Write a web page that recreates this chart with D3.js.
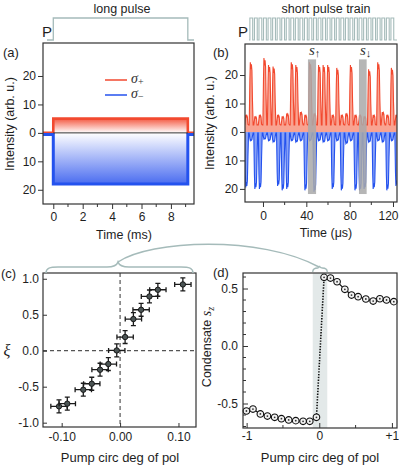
<!DOCTYPE html>
<html>
<head>
<meta charset="utf-8">
<script src="https://cdnjs.cloudflare.com/ajax/libs/d3/7.8.5/d3.min.js"></script>
<style>
  body { margin: 0; background: #fff; }
  svg { display: block; }
</style>
</head>
<body>
<script>
const FONT = '"Liberation Sans", Arial, Helvetica, sans-serif'
const SERIF = '"Liberation Serif", "Times New Roman", serif'
const RED = '#f2492f', BLUE = '#2452ee', GUIDE = '#a5bbba', INK = '#1e1e1e'

// ---------- data ----------
// (a) long pulse, time in ms, intensity in arb. u.
let aTime = [-0.7, 0, 0, 9.15, 9.15, 9.57]
let aSigmaPlus = [0, 0, 5, 5, 0, 0]
let aSigmaMinus = [0.6, 0.6, 18, 18, 0.6, 0.6]

// (b) short pulse train: one entry per pump pulse (time in us)
let bPulseTime = [-15, -10.8, -6.6, -2.4, 1.8, 6, 10.2, 14.4, 18.6, 22.8, 27, 31.2, 35.4, 39.6, 43.8, 48, 52.2,
  56.4, 60.6, 64.8, 69, 73.2, 77.4, 81.6, 85.8, 90, 94.2, 98.4, 102.6, 106.8, 111, 115.2, 119.4, 123.6]
let bSigmaPlus = [6, 24.5, 5.5, 6, 26, 23.5, 23, 6, 5.5, 6.5, 24.5, 23.5, 7, 6, 24.5, 6.5, 23.5,
  23.5, 23.5, 6, 22.5, 6, 6.5, 23.5, 6, 6, 5.5, 22, 6, 24.5, 7, 6, 22.5, 6]
let bSigmaMinus = [19.5, 3, 20, 20, 2.5, 3, 3.5, 19, 20.5, 20, 3, 3.5, 3, 20.5, 3, 21, 3,
  3.5, 3, 20, 3, 20.5, 4, 3, 20.5, 20.5, 20, 3.5, 20, 3, 3.5, 20.5, 3, 19]
let bBandStart = [41.5, 88.6]
let bBandEnd = [49, 95.7]
let bBandLabel = ['↑', '↓']

// (c) xi vs pump circular degree of polarisation
let cPol = [-0.1046, -0.0904, -0.063, -0.0485, -0.0343, -0.0201, -0.0057, 0.0086, 0.0228, 0.036, 0.0503, 0.0647, 0.1075]
let cXi = [-0.773, -0.736, -0.542, -0.459, -0.264, -0.185, 0.004, 0.19, 0.44, 0.569, 0.754, 0.847, 0.921]
let cPolErr = [0.014, 0.014, 0.014, 0.014, 0.014, 0.014, 0.014, 0.014, 0.014, 0.014, 0.014, 0.014, 0.014]
let cXiErr = [0.09, 0.09, 0.09, 0.09, 0.09, 0.09, 0.09, 0.09, 0.09, 0.09, 0.09, 0.09, 0.09]

// (d) condensate s_z vs pump circular degree of polarisation
let dPolLeft = [-1.003, -0.913, -0.811, -0.714, -0.614, -0.521, -0.421, -0.324, -0.223, -0.131, -0.039]
let dSzLeft = [-0.565, -0.548, -0.591, -0.609, -0.62, -0.632, -0.643, -0.649, -0.655, -0.655, -0.62]
let dPolRight = [0.066, 0.154, 0.245, 0.352, 0.444, 0.535, 0.641, 0.742, 0.834, 0.926, 1.026]
let dSzRight = [0.597, 0.591, 0.559, 0.493, 0.443, 0.429, 0.409, 0.391, 0.411, 0.4, 0.386]
let dBand = [-0.09, 0.11]

// ---------- helpers ----------
let svg = d3.select('body').append('svg')
  .attr('width', 399)
  .attr('height', 467)
  .attr('font-family', FONT)

let defs = svg.append('defs')

function styleAxis(g) {
  g.attr('font-family', FONT).attr('font-size', 12)
  g.select('.domain').remove()
  g.selectAll('.tick line').attr('stroke', '#333').attr('stroke-width', 1)
  g.selectAll('.tick text').attr('fill', INK)
}

function text(x, y, str, opts = {}) {
  return svg.append('text')
    .attr('x', x).attr('y', y)
    .attr('font-size', opts.size || 12.5)
    .attr('text-anchor', opts.anchor || 'start')
    .attr('fill', INK)
    .text(str)
}

function frame(x0, y0, x1, y1) {
  svg.append('rect')
    .attr('x', x0).attr('y', y0)
    .attr('width', x1 - x0).attr('height', y1 - y0)
    .attr('fill', 'none')
    .attr('stroke', '#333')
    .attr('stroke-width', 1.2)
}

function minorTicks(values, pos, horizontal, len) {
  svg.append('g').selectAll('line')
    .data(values)
    .enter()
    .append('line')
    .attr('x1', d => horizontal ? pos.scale(d) : pos.at)
    .attr('x2', d => horizontal ? pos.scale(d) : pos.at + len)
    .attr('y1', d => horizontal ? pos.at : pos.scale(d))
    .attr('y2', d => horizontal ? pos.at + len : pos.scale(d))
    .attr('stroke', '#333')
}

// ---------- panel (a) ----------
let xA = d3.scaleLinear().domain([-0.7, 9.57]).range([43, 194])
let yA = d3.scaleLinear().domain([-25, 31.6]).range([204, 43])

let gRed = defs.append('linearGradient').attr('id', 'gradRed')
  .attr('gradientUnits', 'userSpaceOnUse')
  .attr('x1', 0).attr('x2', 0).attr('y1', yA(5)).attr('y2', yA(0))
gRed.append('stop').attr('offset', 0).attr('stop-color', '#f45a43')
gRed.append('stop').attr('offset', 1).attr('stop-color', '#ffffff')

let gBlue = defs.append('linearGradient').attr('id', 'gradBlue')
  .attr('gradientUnits', 'userSpaceOnUse')
  .attr('x1', 0).attr('x2', 0).attr('y1', yA(0)).attr('y2', yA(-18))
gBlue.append('stop').attr('offset', 0).attr('stop-color', '#ffffff')
gBlue.append('stop').attr('offset', 1).attr('stop-color', '#4a6cf0')

let areaA = d3.area().x((d, i) => xA(aTime[i])).y0(yA(0))
let lineA = d3.line().x((d, i) => xA(aTime[i]))

svg.append('path').attr('d', areaA.y1(d => yA(d))(aSigmaPlus)).attr('fill', 'url(#gradRed)')
svg.append('path').attr('d', areaA.y1(d => yA(-d))(aSigmaMinus)).attr('fill', 'url(#gradBlue)')
svg.append('path').attr('d', lineA.y(d => yA(d))(aSigmaPlus))
  .attr('fill', 'none').attr('stroke', RED).attr('stroke-width', 2.6)
svg.append('path').attr('d', lineA.y(d => yA(-d))(aSigmaMinus))
  .attr('fill', 'none').attr('stroke', BLUE).attr('stroke-width', 3)
svg.append('line')
  .attr('x1', xA(0)).attr('x2', xA(9.15))
  .attr('y1', yA(0)).attr('y2', yA(0))
  .attr('stroke', '#333').attr('stroke-width', 1)

frame(43, 43, 194, 204)

svg.append('g')
  .attr('transform', 'translate(43,0)')
  .call(d3.axisLeft(yA).tickValues([-20, -10, 0, 10, 20]).tickFormat(d => Math.abs(d)).tickSize(5).tickPadding(2))
  .call(styleAxis)
svg.append('g')
  .attr('transform', 'translate(0,204)')
  .call(d3.axisBottom(xA).tickValues([0, 2, 4, 6, 8]).tickSize(5).tickPadding(3.5))
  .call(styleAxis)
minorTicks([1, 3, 5, 7, 9], { scale: xA, at: 204 }, true, 3)

// legend
let legA = [{ c: RED, s: '+', y: 80 }, { c: BLUE, s: '−', y: 95 }]
legA.forEach(l => {
  svg.append('line').attr('x1', 105).attr('x2', 127).attr('y1', l.y).attr('y2', l.y)
    .attr('stroke', l.c).attr('stroke-width', 1.5)
  let t = svg.append('text').attr('x', 131).attr('y', l.y + 3)
    .attr('font-family', SERIF).attr('font-style', 'italic').attr('font-size', 14).attr('fill', '#333')
  t.append('tspan').text('σ')
  t.append('tspan').attr('dy', 2).attr('font-size', 10).attr('font-style', 'normal').text(l.s)
})

text(3, 57, '(a)', { size: 13 })
text(124, 239, 'Time (ms)', { anchor: 'middle', size: 12.5 })
svg.append('text')
  .attr('transform', 'translate(14,124) rotate(-90)')
  .attr('text-anchor', 'middle').attr('font-size', 12.5).attr('fill', INK)
  .text('Intensity (arb. u.)')

// pump pulse sketch
svg.append('path')
  .attr('d', `M47,40 L${xA(0)},40 L${xA(0)},18 L${xA(9.15)},18 L${xA(9.15)},40 L194,40`)
  .attr('fill', 'none').attr('stroke', GUIDE).attr('stroke-width', 1.3)
text(42, 37, 'P', { size: 15 })
text(122, 13, 'long pulse', { anchor: 'middle', size: 12.5 })

// ---------- panel (b) ----------
let xB = d3.scaleLinear().domain([-16.6, 123.7]).range([245, 397])
let yB = d3.scaleLinear().domain([-24.6, 30.9]).range([202, 44])

defs.append('clipPath').attr('id', 'clipB')
  .append('rect').attr('x', 245).attr('y', 44).attr('width', 152).attr('height', 158)

// each pulse drawn as a short spike around its time
let spikeOffset = [-1.9, -1.3, -0.9, -0.4, 0.1, 0.6, 1.1, 1.7]
let spikeShape = [0, 0.75, 1, 0.9, 0.97, 0.88, 0.45, 0]
function pulseTrace(heights, base, sign) {
  let pts = []
  bPulseTime.forEach((t, i) => {
    spikeOffset.forEach((o, j) => {
      let v = spikeShape[j] === 0 ? base : Math.max(base, heights[i] * spikeShape[j])
      pts.push([t + o, sign * v])
    })
  })
  return pts
}

let gB = svg.append('g').attr('clip-path', 'url(#clipB)')
let areaB = d3.area().x(d => xB(d[0])).y0(yB(0)).y1(d => yB(d[1]))
let lineB = d3.line().x(d => xB(d[0])).y(d => yB(d[1]))
let redPts = pulseTrace(bSigmaPlus, 2.5, 1)
let bluePts = pulseTrace(bSigmaMinus, 0.4, -1)

gB.append('path').attr('d', areaB(redPts)).attr('fill', '#f9a391')
gB.append('path').attr('d', lineB(redPts)).attr('fill', 'none').attr('stroke', RED).attr('stroke-width', 1.1)
gB.append('path').attr('d', areaB(bluePts)).attr('fill', '#86a0f7')
gB.append('path').attr('d', lineB(bluePts)).attr('fill', 'none').attr('stroke', BLUE).attr('stroke-width', 1.1)

bBandStart.forEach((t0, i) => {
  gB.append('rect')
    .attr('x', xB(t0)).attr('width', xB(bBandEnd[i]) - xB(t0))
    .attr('y', yB(25.5)).attr('height', yB(-21.8) - yB(25.5))
    .attr('fill', '#a9a9a9').attr('opacity', 0.85)
  let t = svg.append('text').attr('x', xB(t0) + 1).attr('y', 55)
    .attr('font-family', SERIF).attr('font-size', 15).attr('fill', '#333')
  t.append('tspan').attr('font-style', 'italic').text('s')
  t.append('tspan').attr('dy', 2).attr('font-size', 11).text(bBandLabel[i])
})

frame(245, 44, 397, 202)

svg.append('g')
  .attr('transform', 'translate(245,0)')
  .call(d3.axisLeft(yB).tickValues([-20, -10, 0, 10, 20]).tickFormat(d => Math.abs(d)).tickSize(5).tickPadding(2))
  .call(styleAxis)
svg.append('g')
  .attr('transform', 'translate(0,202)')
  .call(d3.axisBottom(xB).tickValues([0, 40, 80, 120]).tickSize(5).tickPadding(4.5))
  .call(styleAxis)
  .call(g => g.selectAll('.tick text').filter(d => d === 120).attr('dx', -5))
minorTicks([20, 60, 100], { scale: xB, at: 202 }, true, 3)

text(213, 57, '(b)', { size: 13 })
text(326, 237, 'Time (μs)', { anchor: 'middle', size: 12.5 })
svg.append('text')
  .attr('transform', 'translate(214,123) rotate(-90)')
  .attr('text-anchor', 'middle').attr('font-size', 12.5).attr('fill', INK)
  .text('Intensity (arb. u.)')

// pump pulse train sketch
let comb = 'M249,40'
bPulseTime.filter(t => xB(t - 1.3) > 249 && xB(t + 1.3) < 397).forEach(t => {
  comb += ` L${xB(t - 1.3)},40 L${xB(t - 1.3)},18 L${xB(t + 1.3)},18 L${xB(t + 1.3)},40`
})
comb += ' L397,40'
svg.append('path').attr('d', comb)
  .attr('fill', 'none').attr('stroke', GUIDE).attr('stroke-width', 1.1)
text(238, 37, 'P', { size: 15 })
text(326, 13, 'short pulse train', { anchor: 'middle', size: 12.5 })

// ---------- panel (c) ----------
let xC = d3.scaleLinear().domain([-0.132, 0.130]).range([43, 196])
let yC = d3.scaleLinear().domain([-1.06, 1.08]).range([427, 273])

svg.append('line').attr('x1', 43).attr('x2', 196).attr('y1', yC(0)).attr('y2', yC(0))
  .attr('stroke', '#555').attr('stroke-width', 1.2).attr('stroke-dasharray', '4,3')
svg.append('line').attr('x1', xC(0)).attr('x2', xC(0)).attr('y1', 273).attr('y2', 427)
  .attr('stroke', '#555').attr('stroke-width', 1.2).attr('stroke-dasharray', '4,3')

let pts = svg.append('g').selectAll('g')
  .data(cPol.map((p, i) => ({ p: p, xi: cXi[i], ep: cPolErr[i], ex: cXiErr[i] })))
  .enter()
  .append('g')
pts.append('path')
  .attr('d', d => {
    let x = xC(d.p), y = yC(d.xi)
    let xl = xC(d.p - d.ep), xr = xC(d.p + d.ep), yt = yC(d.xi + d.ex), yb = yC(d.xi - d.ex)
    return `M${xl},${y}H${xr}M${xl},${y - 2.5}V${y + 2.5}M${xr},${y - 2.5}V${y + 2.5}` +
      `M${x},${yt}V${yb}M${x - 2.5},${yt}H${x + 2.5}M${x - 2.5},${yb}H${x + 2.5}`
  })
  .attr('fill', 'none').attr('stroke', '#1a1a1a').attr('stroke-width', 1.3)
pts.append('circle')
  .attr('cx', d => xC(d.p)).attr('cy', d => yC(d.xi)).attr('r', 2.7)
  .attr('fill', '#4b5454').attr('stroke', '#111').attr('stroke-width', 0.9)

frame(43, 273, 196, 427)

svg.append('g')
  .attr('transform', 'translate(43,0)')
  .call(d3.axisLeft(yC).tickValues([-1, -0.5, 0, 0.5, 1]).tickFormat(d => d.toFixed(1)).tickSize(-4).tickPadding(4))
  .call(styleAxis)
svg.append('g')
  .attr('transform', 'translate(0,427)')
  .call(d3.axisBottom(xC).tickValues([-0.1, 0, 0.1]).tickFormat(d => d.toFixed(2)).tickSize(-4).tickPadding(5.5))
  .call(styleAxis)

text(1, 278, '(c)', { size: 13 })
svg.append('text').attr('x', 7).attr('y', 356)
  .attr('text-anchor', 'middle').attr('font-family', SERIF).attr('font-style', 'italic')
  .attr('font-size', 16).attr('fill', INK).text('ξ')
text(120, 462, 'Pump circ deg of pol', { anchor: 'middle', size: 13 })

// brace over (c) and link to (d)
svg.append('path')
  .attr('d', 'M46,273 C46,268 50,267 58,267 L107,267 C114,267 117,265 118,262 C119,265 122,267 129,267 ' +
    'L181,267 C189,267 193,268 193,273')
  .attr('fill', 'none').attr('stroke', GUIDE).attr('stroke-width', 1.5)
svg.append('path')
  .attr('d', 'M118,262 C150,240 260,235 319,267')
  .attr('fill', 'none').attr('stroke', GUIDE).attr('stroke-width', 1.5)

// ---------- panel (d) ----------
let xD = d3.scaleLinear().domain([-1.05, 1.07]).range([243, 397])
let yD = d3.scaleLinear().domain([-0.713, 0.635]).range([428, 273])

svg.append('rect')
  .attr('x', xD(dBand[0])).attr('width', xD(dBand[1]) - xD(dBand[0]))
  .attr('y', 273).attr('height', 155)
  .attr('fill', '#e3e9e9')
svg.append('path')
  .attr('d', `M${xD(dBand[0])},272 Q${xD(dBand[0])},268 ${xD(dBand[0]) + 5},268 ` +
    `Q319,268 319.5,266 Q320,268 ${xD(dBand[1]) - 5},268 Q${xD(dBand[1])},268 ${xD(dBand[1])},272`)
  .attr('fill', 'none').attr('stroke', GUIDE).attr('stroke-width', 1.3)

let lineD = d3.line().x(d => xD(d[0])).y(d => yD(d[1]))
let leftPts = dPolLeft.map((p, i) => [p, dSzLeft[i]])
let rightPts = dPolRight.map((p, i) => [p, dSzRight[i]])

svg.append('path').attr('d', lineD(leftPts)).attr('fill', 'none').attr('stroke', '#111').attr('stroke-width', 1.2)
svg.append('path').attr('d', lineD(rightPts)).attr('fill', 'none').attr('stroke', '#111').attr('stroke-width', 1.2)
svg.append('path').attr('d', lineD([leftPts[leftPts.length - 1], rightPts[0]]))
  .attr('fill', 'none').attr('stroke', '#111').attr('stroke-width', 1.6).attr('stroke-dasharray', '1.4,1.4')

let marks = svg.append('g').selectAll('g')
  .data(leftPts.concat(rightPts))
  .enter()
  .append('g')
  .attr('transform', d => `translate(${xD(d[0])},${yD(d[1])})`)
marks.append('circle').attr('r', 3.3).attr('fill', '#f2f2f2').attr('stroke', '#111').attr('stroke-width', 1.1)
marks.append('circle').attr('r', 0.9).attr('fill', '#333')

frame(243, 273, 397, 428)

svg.append('g')
  .attr('transform', 'translate(243,0)')
  .call(d3.axisLeft(yD).tickValues([-0.5, 0, 0.5]).tickFormat(d => d.toFixed(1)).tickSize(-5).tickPadding(5))
  .call(styleAxis)
svg.append('g')
  .attr('transform', 'translate(0,428)')
  .call(d3.axisBottom(xD).tickValues([-1, 0, 1]).tickFormat(d => d > 0 ? '+' + d : '' + d).tickSize(-5).tickPadding(3.5))
  .call(styleAxis)
minorTicks([-0.7, -0.6, -0.4, -0.3, -0.2, -0.1, 0.1, 0.2, 0.3, 0.4, 0.6], { scale: yD, at: 243 }, false, 3)
minorTicks([-0.5, 0.5], { scale: xD, at: 428 }, true, -3)

text(213, 277, '(d)', { size: 13 })
text(320, 462, 'Pump circ deg of pol', { anchor: 'middle', size: 13 })
let dLab = svg.append('text')
  .attr('transform', 'translate(211,347) rotate(-90)')
  .attr('text-anchor', 'middle').attr('font-size', 12.5).attr('fill', INK)
dLab.append('tspan').text('Condensate  ')
dLab.append('tspan').attr('font-family', SERIF).attr('font-style', 'italic').attr('font-size', 14).text('s')
dLab.append('tspan').attr('font-family', SERIF).attr('font-style', 'italic').attr('font-size', 10).attr('dy', 3).text('z')
</script>
</body>
</html>
